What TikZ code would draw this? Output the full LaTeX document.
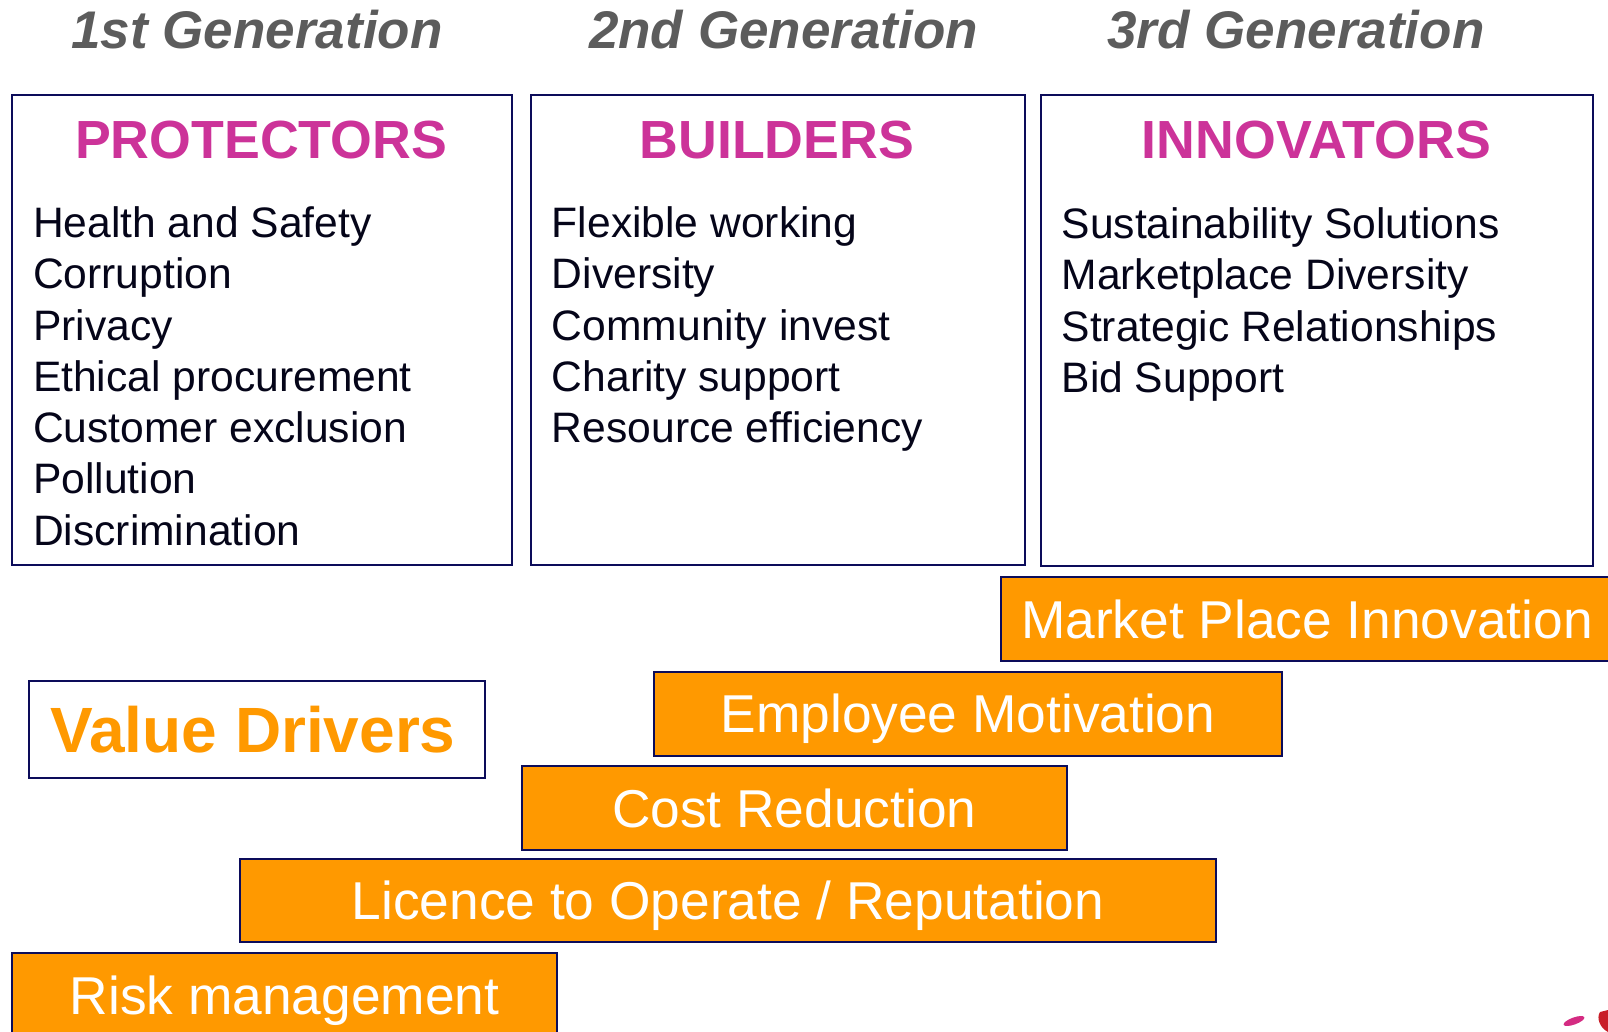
\documentclass[tikz,border=0pt]{standalone}
\usepackage{fontspec}
\setmainfont{Liberation Sans}
\definecolor{navy}{RGB}{12,12,90}
\definecolor{barorange}{RGB}{255,153,0}
\definecolor{titlepink}{RGB}{204,51,153}
\definecolor{headgray}{RGB}{92,92,92}
\definecolor{itemtext}{RGB}{5,5,25}
\definecolor{logored}{RGB}{200,30,40}

\tikzset{
  genhead/.style={font=\fontsize{53}{60}\selectfont\bfseries\itshape, text=headgray, anchor=base, inner sep=0pt},
  panel/.style={draw=navy, line width=2pt, fill=white, anchor=north west, inner sep=0pt},
  paneltitle/.style={font=\fontsize{53.7}{60}\selectfont\bfseries, text=titlepink, anchor=base, inner sep=0pt},
  item/.style={font=\fontsize{42.6}{50}\selectfont, text=itemtext, anchor=base west, inner sep=0pt},
  bar/.style={draw=navy, line width=2pt, fill=barorange, text=white, font=\fontsize{53.3}{60}\selectfont,
    text height=38pt, text depth=0pt, anchor=north west, inner sep=0pt},
  drivers/.style={draw=navy, line width=2pt, fill=white, text=barorange, font=\fontsize{64}{70}\selectfont\bfseries,
    text height=46pt, text depth=0pt, anchor=north west, inner sep=0pt},
}

\begin{document}
\begin{tikzpicture}[x=1pt,y=-1pt]
\useasboundingbox (0,0) rectangle (1608,1032);

% generation headings
\node[genhead] (g1) at (257,48.2) {1st Generation};
\node[genhead] (g2) at (783.5,48.2) {2nd Generation};
\node[genhead] (g3) at (1296,48.2) {3rd Generation};

% the three panels
\node[panel, minimum width=499.4pt, minimum height=469.7pt] (prot) at (11.3,94.3) {};
\node[panel, minimum width=493.5pt, minimum height=469.7pt] (build) at (530,94.3) {};
\node[panel, minimum width=551.6pt, minimum height=470.5pt] (innov) at (1040,94.3) {};

\node[paneltitle] (tprot) at (261,159) {PROTECTORS};
\node[paneltitle] (tbuild) at (776.8,159) {BUILDERS};
\node[paneltitle] (tinnov) at (1316.5,159) {INNOVATORS};

\foreach \t [count=\i from 0] in {Health and Safety, Corruption, Privacy, Ethical procurement, Customer exclusion, Pollution, Discrimination}
  \node[item] (p\i) at (32.8,237.4+51.3*\i) {\t};
\foreach \t [count=\i from 0] in {Flexible working, Diversity, Community invest, Charity support, Resource efficiency}
  \node[item] (b\i) at (551.7,237.4+51.3*\i) {\t};
\foreach \t [count=\i from 0] in {Sustainability Solutions, Marketplace Diversity, Strategic Relationships, Bid Support}
  \node[item] (n\i) at (1061.4,238.4+51.3*\i) {\t};

% value driver bars
\node[bar, minimum width=612pt, minimum height=84pt] (market) at (1000,576.3) {Market Place Innovation};
\node[bar, minimum width=628pt, minimum height=84pt] (employee) at (653,670.7) {Employee Motivation};
\node[drivers, minimum width=456.3pt, minimum height=97pt] (value) at (27.7,680) {Value Drivers\hspace*{8pt}};
\node[bar, minimum width=544.5pt, minimum height=84pt] (cost) at (521,765) {Cost Reduction};
\node[bar, minimum width=976pt, minimum height=83pt] (licence) at (239,858) {Licence to Operate / Reputation};
\node[bar, minimum width=544.7pt, minimum height=86pt] (risk) at (11.3,951.7) {Risk management};

% logo fragments in the corner
\fill[titlepink!85!red, rotate around={20:(1574,1021)}] (1574,1021) ellipse [x radius=11pt, y radius=3.5pt];
\fill[logored] (1600,1012) .. controls (1596,1018) and (1600,1028) .. (1608,1032) -- (1608,1010) -- cycle;
\end{tikzpicture}
\end{document}
